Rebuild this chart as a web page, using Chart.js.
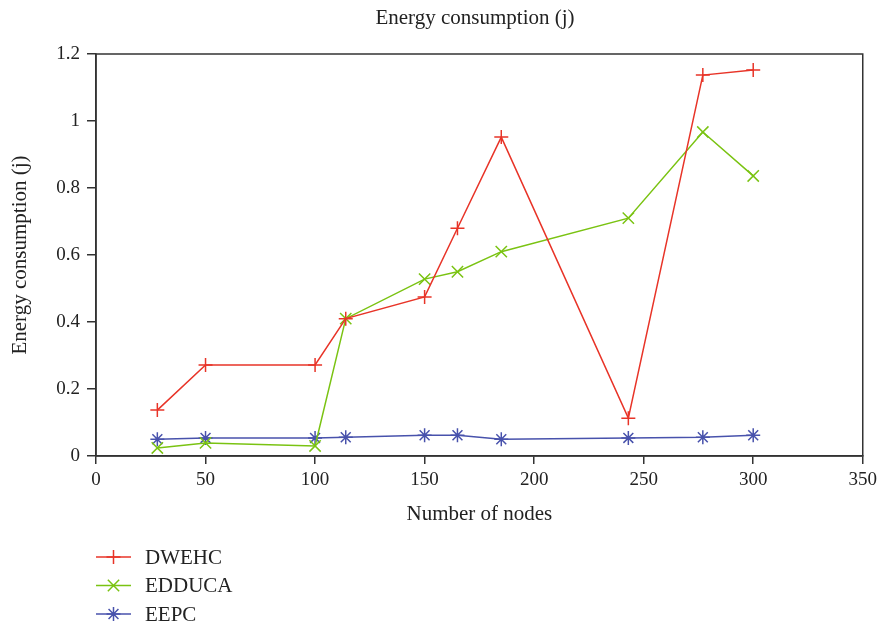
<!DOCTYPE html>
<html lang="en">
<head>
  <meta charset="UTF-8" />
  <title>Energy consumption (j)</title>
  <script src="https://cdn.jsdelivr.net/npm/chart.js"></script>
  <style>
    body { margin: 0; background: #fff; }
    #wrap { width: 882px; height: 625px; }
  </style>
</head>
<body>
  <div id="wrap"><canvas id="energyChart" width="882" height="625"></canvas></div>

  <script>
    // data
    const nodes = [28, 50, 100, 114, 150, 165, 185, 243, 277, 300];
    const dwehc = [0.137, 0.272, 0.272, 0.41, 0.475, 0.68, 0.952, 0.113, 1.137, 1.152];
    const edduca = [0.024, 0.039, 0.03, 0.41, 0.528, 0.55, 0.61, 0.71, 0.967, 0.836];
    const eepc = [0.05, 0.054, 0.054, 0.056, 0.062, 0.062, 0.05, 0.054, 0.056, 0.062];
    const seriesNames = ['DWEHC', 'EDDUCA', 'EEPC'];

    const FONT = '"Liberation Serif", "DejaVu Serif", serif';
    const red = 'rgb(232,52,40)';
    const green = 'rgb(122,195,18)';
    const blue = 'rgb(72,82,172)';

    function pts(ys) {
      return nodes.map((x, i) => ({ x: x, y: ys[i] }));
    }

    function series(label, ys, color, style, r) {
      return {
        label: label,
        data: pts(ys),
        borderColor: color,
        backgroundColor: color,
        borderWidth: 1.5,
        pointStyle: style,
        pointRadius: r,
        pointHoverRadius: r,
        pointBorderWidth: 1.5,
        pointBorderColor: color,
        tension: 0
      };
    }

    // frame, title and legend drawn on the canvas
    const extras = {
      id: 'extras',
      afterDraw(chart) {
        const ctx = chart.ctx;
        const a = chart.chartArea;
        ctx.save();
        ctx.strokeStyle = '#333';
        ctx.lineWidth = 1.5;
        ctx.strokeRect(a.left, a.top, a.right - a.left, a.bottom - a.top);

        ctx.fillStyle = '#222';
        ctx.font = '21px ' + FONT;
        ctx.textAlign = 'center';
        ctx.textBaseline = 'middle';
        ctx.fillText('Energy consumption (j)', 475, 18);

        ctx.textAlign = 'left';
        chart.data.datasets.forEach((ds, i) => {
          const y = 557 + i * 28.5;
          ctx.strokeStyle = ds.borderColor;
          ctx.lineWidth = 1.5;
          ctx.beginPath();
          ctx.moveTo(96, y);
          ctx.lineTo(131, y);
          ctx.stroke();
          Chart.helpers.drawPoint(ctx, {
            pointStyle: ds.pointStyle, radius: ds.pointRadius, rotation: 0, borderWidth: 1.5
          }, 113.5, y);
          ctx.fillStyle = '#222';
          ctx.fillText(ds.label, 145, y + 1);
        });
        ctx.restore();
      }
    };

    new Chart(document.getElementById('energyChart'), {
      type: 'line',
      data: {
        datasets: [
          series(seriesNames[0], dwehc, red, 'cross', 7),
          series(seriesNames[1], edduca, green, 'crossRot', 8),
          series(seriesNames[2], eepc, blue, 'star', 7)
        ]
      },
      options: {
        responsive: false,
        animation: false,
        layout: { padding: { top: 54, right: 19, bottom: 97, left: 0 } },
        plugins: {
          legend: { display: false },
          title: { display: false },
          tooltip: { enabled: false }
        },
        scales: {
          x: {
            type: 'linear',
            min: 0,
            max: 350,
            afterFit(scale) { scale.height = 72; },
            ticks: { stepSize: 50, color: '#222', padding: 5, maxRotation: 0, font: { family: FONT, size: 19 } },
            grid: { drawOnChartArea: false, drawTicks: true, tickLength: 8, color: '#333', lineWidth: 1.5 },
            border: { color: '#333', width: 1.5 },
            title: { display: true, text: 'Number of nodes', color: '#222', padding: { top: 0, bottom: 1 }, font: { family: FONT, size: 21 } }
          },
          y: {
            min: 0,
            max: 1.2,
            afterFit(scale) { scale.width = 96; },
            ticks: {
              stepSize: 0.2, color: '#222', padding: 7, font: { family: FONT, size: 19 },
              callback: v => String(Math.round(v * 10) / 10)
            },
            grid: { drawOnChartArea: false, drawTicks: true, tickLength: 9, color: '#333', lineWidth: 1.5 },
            border: { color: '#333', width: 1.5 },
            title: { display: true, text: 'Energy consumption (j)', color: '#222', padding: { top: 8, bottom: 0 }, font: { family: FONT, size: 21 } }
          }
        }
      },
      plugins: [extras]
    });
  </script>
</body>
</html>
